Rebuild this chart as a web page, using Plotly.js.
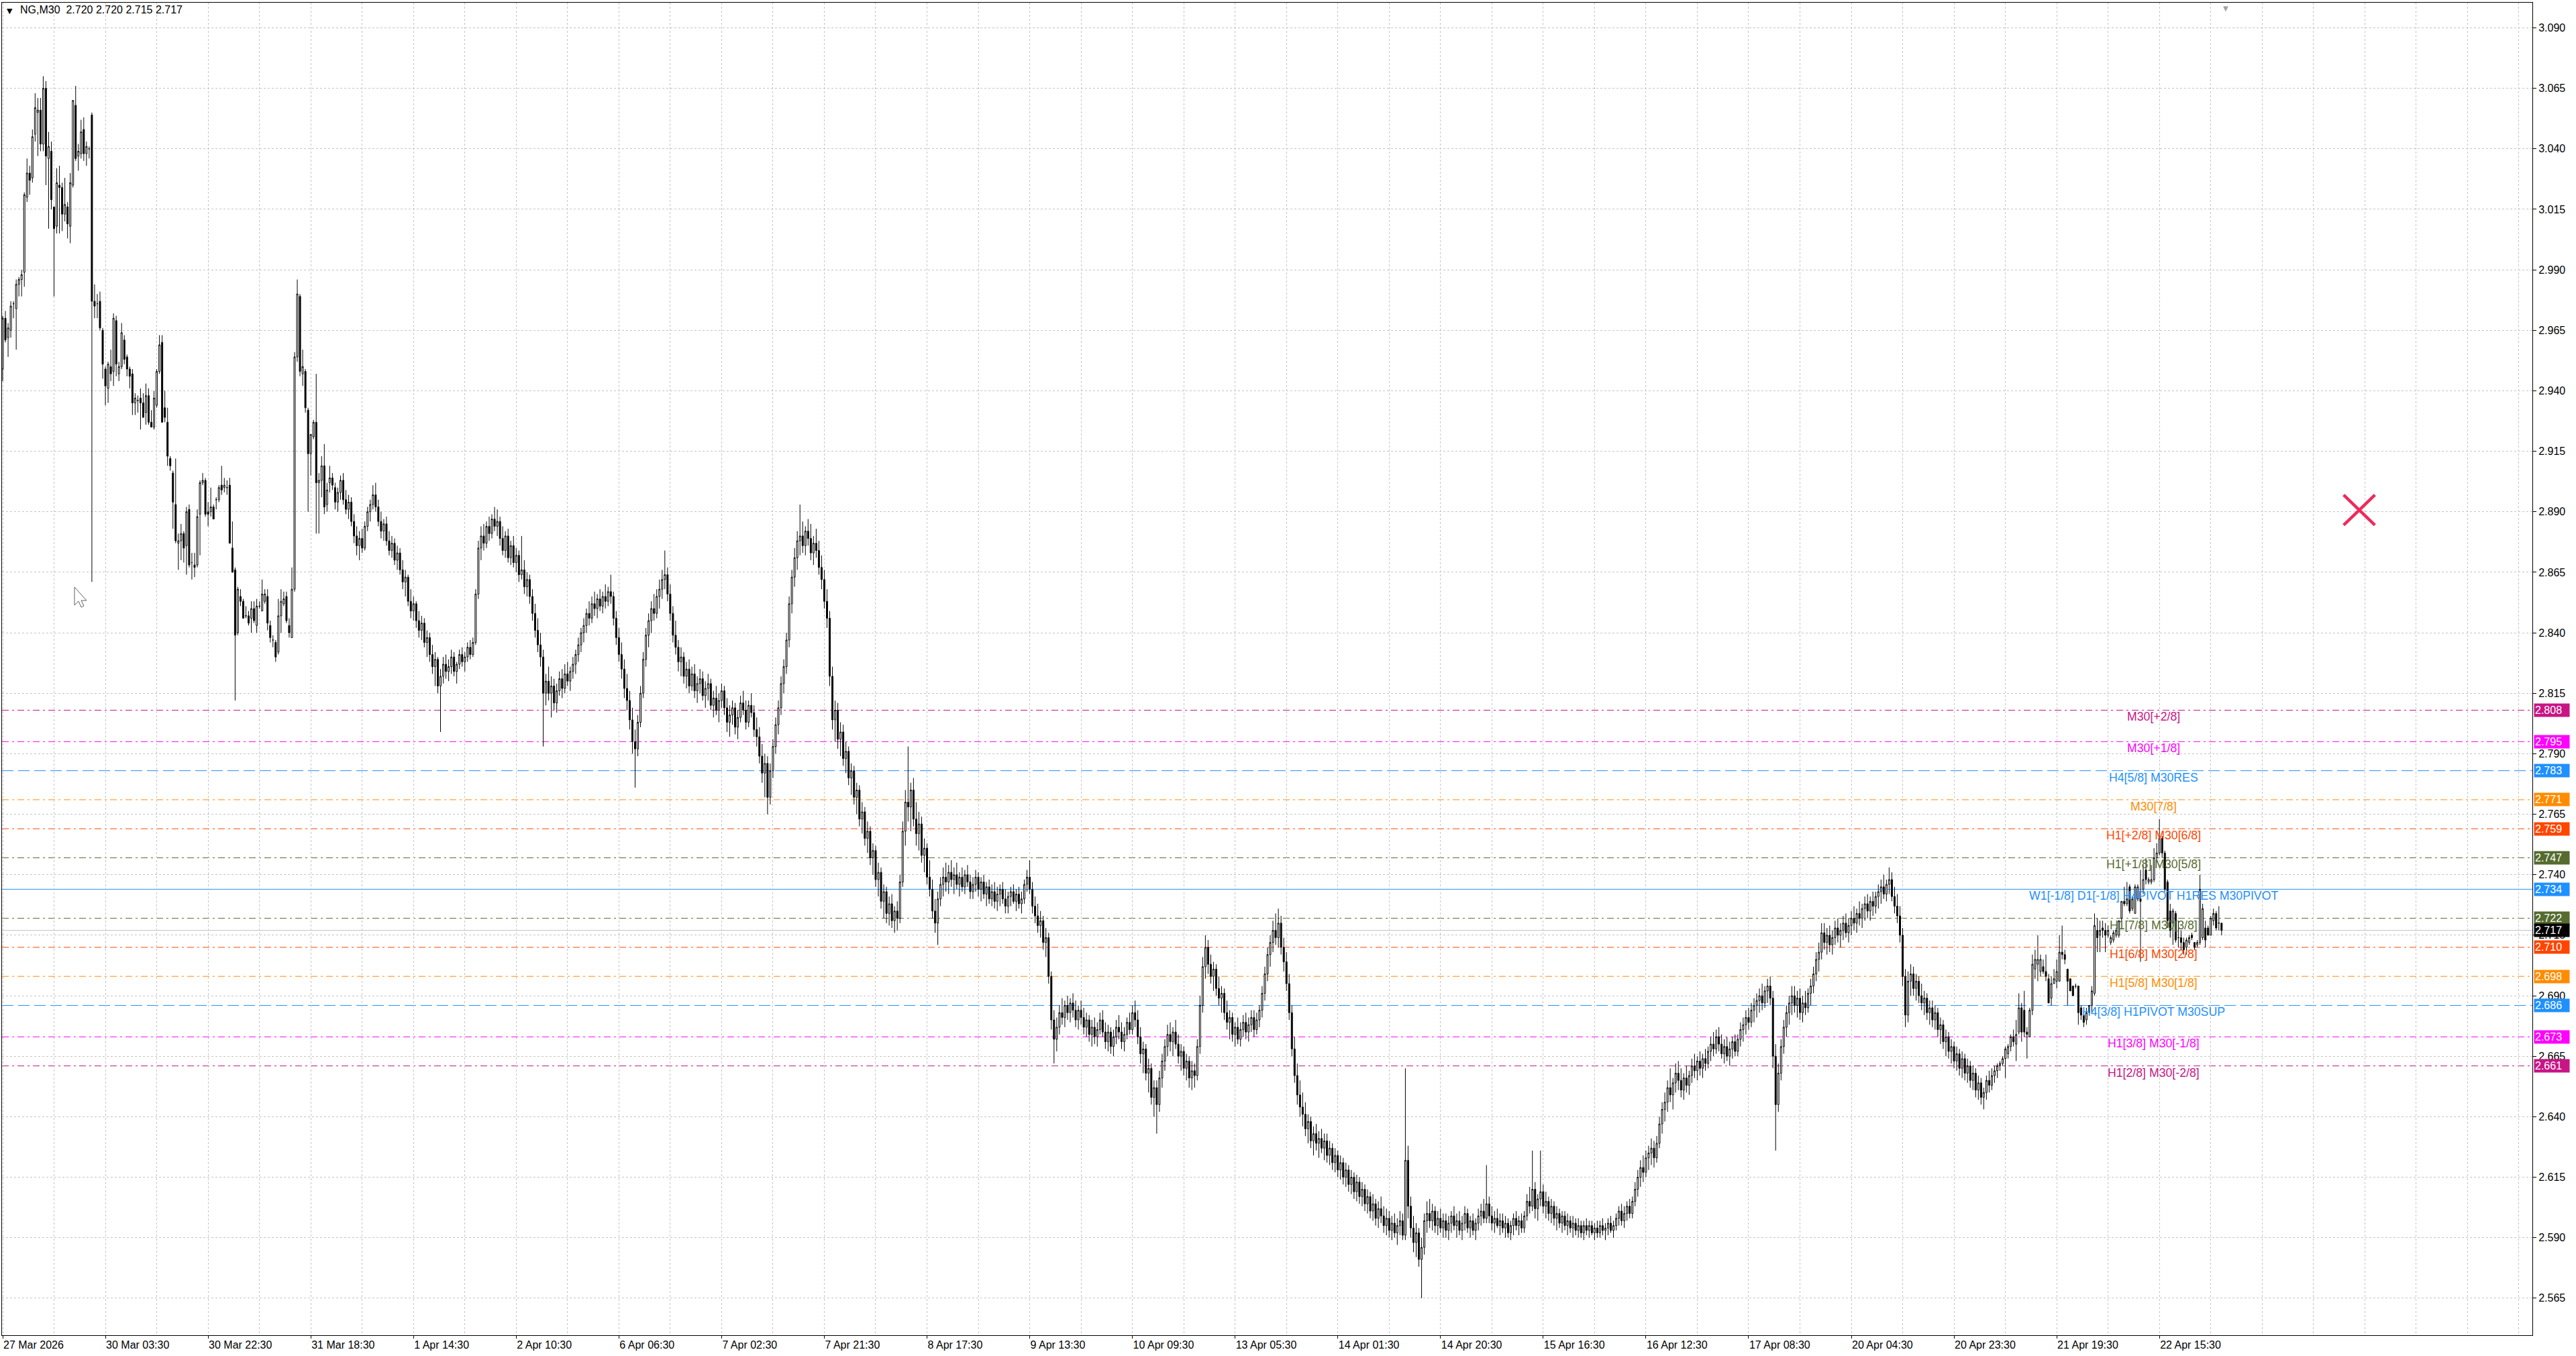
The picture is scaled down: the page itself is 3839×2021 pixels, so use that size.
<!DOCTYPE html>
<html><head><meta charset="utf-8">
<script src="https://cdn.plot.ly/plotly-3.0.1.min.js"></script>
<style>html,body{margin:0;padding:0;background:#fff;overflow:hidden}#chart{width:3839px;height:2021px}</style>
</head><body><div id="chart"></div>
<script>
// ---------------- DATA ----------------
const headerText = 'NG,M30  2.720 2.720 2.715 2.717';
const timeLabels = ['27 Mar 2026','30 Mar 03:30','30 Mar 22:30','31 Mar 18:30','1 Apr 14:30','2 Apr 10:30','6 Apr 06:30','7 Apr 02:30','7 Apr 21:30','8 Apr 17:30','9 Apr 13:30','10 Apr 09:30','13 Apr 05:30','14 Apr 01:30','14 Apr 20:30','15 Apr 16:30','16 Apr 12:30','17 Apr 08:30','20 Apr 04:30','20 Apr 23:30','21 Apr 19:30','22 Apr 15:30'];
const barsPerTimeLabel = 38;
const priceTicks = [3.090,3.065,3.040,3.015,2.990,2.965,2.940,2.915,2.890,2.865,2.840,2.815,2.790,2.765,2.740,2.715,2.690,2.665,2.640,2.615,2.590,2.565];

const openP = [2.949,2.970,2.962,2.965,2.976,2.974,2.984,2.986,2.989,3.020,3.030,3.028,3.046,3.055,3.056,3.042,3.065,3.036,3.039,3.016,3.008,3.025,3.024,3.013,3.016,3.008,3.025,3.058,3.037,3.038,3.048,3.038,3.040,3.054,2.977,2.976,2.977,2.965,2.949,2.941,2.950,2.948,2.969,2.947,2.950,2.961,2.954,2.949,2.947,2.935,2.936,2.937,2.935,2.931,2.938,2.927,2.925,2.934,2.948,2.960,2.933,2.927,2.912,2.906,2.893,2.877,2.878,2.881,2.876,2.891,2.869,2.868,2.868,2.889,2.902,2.903,2.890,2.890,2.892,2.895,2.895,2.901,2.900,2.900,2.901,2.875,2.866,2.840,2.855,2.853,2.847,2.847,2.846,2.850,2.843,2.851,2.849,2.853,2.855,2.843,2.837,2.836,2.832,2.847,2.852,2.855,2.843,2.838,2.858,2.954,2.979,2.947,2.948,2.932,2.914,2.921,2.927,2.902,2.903,2.909,2.893,2.902,2.904,2.900,
2.894,2.898,2.903,2.895,2.891,2.894,2.886,2.880,2.876,2.879,
2.875,2.884,2.890,2.893,2.897,2.892,2.886,2.882,2.885,2.878,
2.874,2.877,2.870,2.873,2.866,2.861,2.863,2.853,2.849,2.852,
2.845,2.841,2.844,2.836,2.838,2.831,2.826,2.829,2.818,2.822,
2.827,2.824,2.826,2.830,2.824,2.827,2.831,2.828,2.830,2.834,2.831,2.836,
2.856,2.875,2.880,2.877,2.884,2.881,2.887,2.884,2.886,2.879,
2.874,2.880,2.871,2.876,2.869,2.872,2.864,2.866,2.859,2.862,
2.855,2.848,2.841,2.835,2.830,2.815,2.820,2.815,2.818,2.811,
2.816,2.821,2.817,2.823,2.820,2.824,2.827,
2.831,2.835,2.840,2.843,2.848,2.846,2.852,2.850,2.854,2.851,2.855,2.853,
2.857,2.855,2.846,2.838,2.831,2.825,2.817,2.812,2.804,2.795,2.792,2.803,
2.815,2.829,2.839,2.845,2.850,2.848,2.855,2.858,2.862,2.864,2.856,2.848,
2.839,2.834,2.828,2.830,2.822,2.825,2.818,2.823,2.816,2.819,2.821,2.814,
2.817,2.819,2.810,2.813,2.808,2.812,2.816,2.809,2.803,2.806,2.809,2.801,2.805,2.811,2.808,
2.803,2.810,2.807,2.800,2.797,2.789,2.782,2.786,2.772,2.783,2.793,2.802,2.809,2.819,2.826,
2.837,2.852,2.863,2.871,2.878,2.880,2.876,2.882,2.879,2.873,2.877,2.874,2.867,2.862,2.853,
2.846,2.822,2.804,2.808,2.796,2.799,2.788,2.791,2.780,2.783,2.772,2.775,2.763,2.766,
2.755,2.758,2.747,2.750,2.738,2.741,2.729,2.733,2.724,2.728,2.721,2.725,2.722,
2.737,2.758,2.770,2.768,2.775,2.763,2.757,2.761,2.748,2.751,
2.739,2.734,2.725,2.720,2.730,2.736,2.739,2.737,2.741,2.738,
2.740,2.736,2.739,2.735,2.740,2.737,2.733,2.736,2.739,2.734,2.737,2.732,2.735,2.730,2.733,
2.729,2.732,2.734,2.730,2.727,2.731,2.733,2.729,2.732,2.728,2.730,2.736,2.739,2.734,2.727,2.723,2.719,2.721,2.712,2.714,
2.698,2.680,2.672,2.677,2.683,2.681,2.686,2.683,2.687,2.684,2.680,2.684,2.681,2.677,2.680,
2.674,2.677,2.673,2.676,2.680,2.675,2.671,2.675,2.669,2.673,2.677,2.675,2.671,2.674,2.679,
2.676,2.683,2.680,2.673,2.666,2.668,2.658,2.660,2.648,2.652,2.645,2.656,2.663,2.669,2.674,
2.671,2.675,2.670,2.665,2.667,2.660,2.663,2.656,2.659,2.657,2.669,2.686,2.702,
2.710,2.703,2.698,2.701,2.693,2.689,2.691,2.683,2.679,2.681,2.674,2.677,2.672,2.676,2.679,
2.675,2.678,2.681,2.676,2.680,2.684,2.691,2.699,2.707,2.712,2.717,2.714,2.720,2.710,2.704,2.695,
2.683,2.668,2.657,2.649,2.644,2.641,2.635,2.638,2.630,2.633,2.629,2.631,2.627,2.630,2.624,
2.627,2.621,2.624,2.618,2.621,2.615,2.618,2.612,2.615,2.609,2.613,2.607,2.610,2.604,2.607,
2.601,2.604,2.598,2.602,2.599,2.595,2.598,2.593,2.596,2.592,2.595,2.597,2.591,
2.622,2.603,2.594,2.588,2.592,2.581,2.586,2.597,2.600,2.597,2.601,2.595,2.598,2.594,2.597,
2.593,2.596,2.599,2.595,2.597,2.593,2.596,2.600,2.594,2.597,2.593,2.596,2.599,2.601,2.598,
2.604,2.599,2.596,2.598,2.595,2.597,2.594,2.596,2.592,2.595,2.598,2.595,2.597,2.594,2.599,
2.605,2.603,2.610,2.602,2.606,2.609,2.603,2.605,2.600,2.603,2.598,2.600,2.596,2.599,2.595,
2.597,2.594,2.596,2.593,2.595,2.592,2.595,2.593,2.595,2.592,2.594,2.592,2.595,2.593,2.594,
2.596,2.593,2.595,2.598,2.601,2.597,2.600,2.603,2.600,2.605,
2.610,2.615,2.619,2.617,2.623,2.625,2.627,2.623,2.629,2.637,2.643,2.646,2.652,2.649,2.654,
2.658,2.655,2.651,2.656,2.653,2.657,2.661,2.659,2.663,2.660,2.664,2.662,2.667,2.670,2.668,
2.673,2.670,2.666,2.669,2.665,2.668,2.671,2.667,2.672,2.676,2.678,2.681,2.679,2.684,2.686,
2.688,2.690,2.687,2.692,2.694,2.689,2.665,2.645,2.658,
2.669,2.677,2.683,2.687,2.690,2.686,2.689,2.683,2.687,2.685,2.691,2.694,2.699,2.705,2.708,
2.716,2.712,2.715,2.711,2.714,2.718,2.715,2.717,2.720,2.716,2.719,2.722,2.720,2.724,2.722,
2.726,2.728,2.725,2.729,2.727,2.731,2.733,2.735,2.732,2.736,2.738,2.731,2.727,2.723,2.715,
2.698,2.682,2.696,2.699,2.693,2.696,2.690,2.687,2.689,2.683,2.685,2.680,2.683,2.676,2.678,
2.671,2.673,2.667,2.669,2.663,2.666,2.660,2.664,2.658,2.661,2.655,2.658,2.651,2.654,2.648,
2.650,2.655,2.653,2.657,2.659,
2.661,2.662,2.664,2.666,2.669,2.673,2.670,2.675,2.685,2.684,2.675,2.673,2.684,2.701,2.703,
2.700,2.702,2.700,2.697,2.689,2.695,2.696,2.696,2.708,2.707,2.701,2.697,2.694,2.694,2.694,
2.685,2.682,2.680,2.683,2.686,2.691,2.717,2.715,2.718,2.717,2.715,
2.712,2.713,2.715,2.715,2.722,2.729,2.728,2.735,2.726,2.724,2.730,2.730,2.734,2.742,2.737,2.737,
2.738,2.747,2.749,2.755,2.749,2.737,2.725,2.720,2.724,2.714,2.714,2.712,2.710,2.712,2.715,
2.712,2.711,2.712,2.714,2.718,2.718,2.715,2.721,2.724,2.720,2.720];

const highP = [2.971,2.973,2.968,2.977,2.977,2.986,2.987,2.990,3.022,3.036,3.033,3.048,3.063,3.061,3.061,3.070,3.068,3.047,3.043,3.016,3.032,3.033,3.026,3.028,3.018,3.030,3.060,3.066,3.042,3.052,3.053,3.043,3.041,3.055,2.984,2.980,2.981,2.966,2.950,2.952,2.957,2.972,2.971,2.952,2.968,2.963,2.955,2.950,2.949,2.939,2.938,2.941,2.939,2.943,2.941,2.932,2.940,2.949,2.963,2.963,2.940,2.933,2.913,2.907,2.912,2.881,2.885,2.882,2.892,2.893,2.873,2.873,2.891,2.903,2.906,2.904,2.894,2.900,2.893,2.896,2.901,2.909,2.904,2.903,2.904,2.886,2.867,2.859,2.858,2.854,2.851,2.849,2.853,2.853,2.854,2.853,2.862,2.858,2.858,2.845,2.839,2.837,2.854,2.858,2.857,2.857,2.846,2.867,2.956,2.986,2.980,2.957,2.949,2.933,2.922,2.928,2.947,2.906,2.913,2.918,2.902,2.909,2.906,2.902,
2.900,2.905,2.906,2.899,2.897,2.896,2.889,2.884,2.882,2.883,
2.886,2.892,2.895,2.901,2.902,2.895,2.890,2.887,2.888,2.882,
2.880,2.879,2.876,2.875,2.870,2.866,2.864,2.858,2.855,2.853,
2.849,2.847,2.846,2.841,2.840,2.835,2.832,2.830,2.825,2.830,
2.831,2.829,2.833,2.832,2.828,2.833,2.834,2.832,2.836,2.837,2.838,2.858,
2.878,2.884,2.885,2.886,2.888,2.889,2.892,2.891,2.888,2.884,
2.882,2.883,2.878,2.880,2.875,2.874,2.880,2.870,2.865,2.864,
2.858,2.852,2.846,2.840,2.833,2.823,2.826,2.822,2.821,2.819,
2.824,2.825,2.827,2.828,2.826,2.830,2.833,
2.838,2.842,2.846,2.850,2.853,2.855,2.857,2.856,2.858,2.857,2.860,2.859,
2.864,2.857,2.849,2.842,2.836,2.829,2.823,2.816,2.809,2.800,2.806,2.818,
2.832,2.842,2.848,2.853,2.856,2.858,2.862,2.866,2.874,2.867,2.860,2.851,
2.845,2.837,2.834,2.832,2.828,2.829,2.826,2.827,2.822,2.825,2.824,2.820,
2.823,2.821,2.816,2.818,2.815,2.819,2.818,2.813,2.810,2.812,2.811,2.808,2.814,2.816,2.812,
2.812,2.815,2.810,2.805,2.801,2.794,2.790,2.789,2.786,2.796,2.805,2.812,2.822,2.829,2.840,
2.855,2.866,2.875,2.882,2.893,2.886,2.884,2.887,2.885,2.880,2.883,2.878,2.872,2.866,2.858,
2.849,2.826,2.812,2.811,2.803,2.802,2.795,2.793,2.786,2.785,2.778,2.777,2.770,2.768,
2.762,2.760,2.753,2.752,2.745,2.743,2.736,2.735,2.731,2.732,2.727,2.729,2.740,
2.762,2.775,2.793,2.778,2.780,2.770,2.766,2.764,2.755,2.753,
2.746,2.738,2.730,2.733,2.739,2.743,2.745,2.744,2.746,2.743,
2.745,2.741,2.743,2.742,2.744,2.740,2.739,2.742,2.741,2.739,2.740,2.737,2.738,2.736,2.737,
2.735,2.736,2.737,2.734,2.733,2.735,2.736,2.734,2.735,2.733,2.738,2.742,2.746,2.737,2.731,2.728,2.725,2.723,2.718,2.716,
2.700,2.684,2.681,2.686,2.689,2.688,2.690,2.689,2.691,2.688,2.686,2.688,2.685,2.683,2.682,
2.680,2.681,2.679,2.683,2.684,2.679,2.678,2.677,2.676,2.680,2.682,2.679,2.677,2.681,2.683,
2.686,2.688,2.684,2.677,2.671,2.670,2.664,2.662,2.655,2.655,2.659,2.666,2.672,2.678,2.679,
2.677,2.680,2.674,2.670,2.669,2.666,2.665,2.663,2.662,2.672,2.690,2.706,2.715,
2.713,2.707,2.704,2.703,2.698,2.694,2.693,2.688,2.684,2.683,2.679,2.681,2.679,2.682,2.683,
2.681,2.684,2.684,2.683,2.686,2.694,2.702,2.710,2.715,2.721,2.724,2.726,2.723,2.714,2.708,2.699,
2.686,2.673,2.662,2.655,2.650,2.646,2.641,2.640,2.636,2.637,2.634,2.635,2.633,2.633,2.630,
2.629,2.627,2.626,2.624,2.623,2.621,2.620,2.618,2.617,2.616,2.615,2.613,2.612,2.610,2.609,
2.608,2.606,2.605,2.607,2.603,2.602,2.601,2.599,2.600,2.598,2.601,2.600,2.660,
2.628,2.607,2.599,2.596,2.594,2.590,2.600,2.605,2.606,2.604,2.603,2.601,2.602,2.600,2.600,
2.599,2.601,2.603,2.600,2.601,2.599,2.603,2.602,2.599,2.600,2.598,2.602,2.604,2.606,2.620,
2.607,2.603,2.601,2.602,2.600,2.600,2.599,2.598,2.597,2.600,2.601,2.599,2.600,2.601,2.608,
2.611,2.626,2.613,2.608,2.626,2.612,2.609,2.607,2.606,2.605,2.603,2.602,2.601,2.601,2.600,
2.599,2.599,2.598,2.598,2.597,2.597,2.598,2.597,2.597,2.596,2.597,2.597,2.598,2.596,2.598,
2.599,2.597,2.600,2.603,2.604,2.603,2.605,2.606,2.607,2.613,
2.618,2.622,2.624,2.626,2.628,2.631,2.630,2.632,2.640,2.646,2.650,2.655,2.660,2.656,2.662,
2.663,2.660,2.658,2.661,2.659,2.664,2.666,2.665,2.667,2.666,2.668,2.669,2.673,2.675,2.676,
2.677,2.674,2.672,2.673,2.671,2.673,2.674,2.674,2.679,2.681,2.684,2.685,2.687,2.689,2.691,
2.693,2.695,2.694,2.697,2.698,2.692,2.670,2.662,2.672,
2.680,2.686,2.690,2.694,2.694,2.692,2.693,2.690,2.692,2.693,2.697,2.702,2.708,2.712,2.720,
2.720,2.718,2.719,2.717,2.721,2.722,2.720,2.723,2.724,2.722,2.725,2.727,2.726,2.729,2.728,
2.731,2.732,2.731,2.733,2.733,2.736,2.738,2.740,2.738,2.743,2.741,2.735,2.732,2.727,2.718,
2.701,2.700,2.703,2.702,2.699,2.698,2.695,2.692,2.691,2.688,2.688,2.686,2.685,2.681,2.680,
2.676,2.675,2.672,2.671,2.669,2.668,2.667,2.666,2.664,2.663,2.661,2.660,2.657,2.656,2.652,
2.657,2.659,2.660,2.661,2.662,
2.663,2.665,2.669,2.670,2.674,2.676,2.680,2.691,2.687,2.692,2.677,2.685,2.707,2.709,2.715,
2.707,2.705,2.707,2.699,2.698,2.701,2.705,2.715,2.719,2.709,2.701,2.697,2.694,2.695,2.694,
2.686,2.683,2.685,2.686,2.694,2.724,2.722,2.721,2.721,2.720,2.719,
2.715,2.717,2.718,2.721,2.729,2.735,2.737,2.736,2.731,2.736,2.736,2.742,2.744,2.747,2.739,2.744,
2.751,2.753,2.763,2.756,2.750,2.738,2.728,2.726,2.725,2.721,2.717,2.714,2.714,2.715,2.716,
2.712,2.713,2.740,2.728,2.721,2.719,2.723,2.726,2.725,2.727,2.720];

const lowP = [2.944,2.960,2.954,2.962,2.970,2.957,2.979,2.979,2.983,3.018,3.021,3.026,3.043,3.037,3.039,3.039,3.025,3.007,3.015,2.979,3.005,3.005,3.006,3.010,3.003,3.001,3.024,3.035,3.031,3.036,3.035,3.033,3.036,2.861,2.970,2.970,2.965,2.945,2.934,2.935,2.944,2.942,2.946,2.944,2.949,2.951,2.946,2.941,2.930,2.930,2.931,2.924,2.929,2.926,2.926,2.925,2.924,2.933,2.947,2.927,2.927,2.909,2.907,2.883,2.877,2.866,2.870,2.869,2.864,2.867,2.862,2.863,2.867,2.872,2.901,2.888,2.884,2.888,2.887,2.891,2.894,2.897,2.898,2.897,2.877,2.865,2.812,2.839,2.851,2.846,2.846,2.843,2.840,2.844,2.840,2.850,2.849,2.852,2.841,2.836,2.834,2.828,2.831,2.840,2.851,2.844,2.838,2.838,2.857,2.952,2.946,2.942,2.931,2.890,2.905,2.920,2.881,2.881,2.896,2.889,2.890,2.898,2.899,2.891,
2.890,2.895,2.893,2.889,2.887,2.884,2.877,2.872,2.870,2.873,
2.874,2.882,2.886,2.891,2.890,2.884,2.879,2.878,2.876,2.872,
2.871,2.868,2.866,2.864,2.858,2.855,2.851,2.846,2.845,2.842,
2.838,2.837,2.834,2.830,2.828,2.823,2.818,2.815,2.799,2.819,
2.821,2.820,2.823,2.822,2.819,2.825,2.826,2.824,2.828,2.829,2.830,2.835,
2.854,2.870,2.874,2.875,2.878,2.879,2.882,2.880,2.876,2.872,
2.871,2.869,2.868,2.867,2.865,2.861,2.862,2.856,2.855,2.852,
2.845,2.838,2.832,2.826,2.793,2.810,2.812,2.805,2.808,2.807,
2.814,2.813,2.815,2.818,2.816,2.821,2.823,
2.828,2.832,2.836,2.840,2.843,2.844,2.847,2.846,2.849,2.848,2.850,2.851,
2.852,2.843,2.835,2.828,2.821,2.813,2.808,2.800,2.790,2.776,2.789,2.801,
2.813,2.826,2.834,2.840,2.845,2.846,2.850,2.854,2.858,2.853,2.845,2.836,
2.831,2.824,2.822,2.819,2.817,2.815,2.816,2.813,2.811,2.815,2.812,2.809,
2.812,2.808,2.805,2.806,2.803,2.809,2.806,2.799,2.797,2.802,2.798,2.796,2.803,2.806,2.800,
2.801,2.805,2.797,2.793,2.786,2.778,2.772,2.765,2.769,2.780,2.790,2.798,2.806,2.815,2.823,
2.834,2.848,2.859,2.866,2.872,2.873,2.872,2.876,2.870,2.868,2.871,2.864,2.858,2.850,2.842,
2.818,2.800,2.795,2.792,2.789,2.785,2.782,2.777,2.773,2.769,2.765,2.760,2.757,2.752,
2.749,2.744,2.740,2.735,2.731,2.726,2.722,2.720,2.719,2.718,2.716,2.717,2.720,
2.735,2.752,2.762,2.758,2.760,2.752,2.750,2.745,2.741,2.736,
2.731,2.722,2.716,2.711,2.727,2.731,2.733,2.732,2.735,2.732,
2.734,2.731,2.733,2.732,2.735,2.730,2.730,2.733,2.731,2.729,2.730,2.727,2.728,2.727,2.726,
2.725,2.727,2.728,2.724,2.724,2.727,2.728,2.725,2.726,2.724,2.728,2.733,2.732,2.724,2.720,2.716,2.714,2.709,2.706,2.695,
2.676,2.662,2.667,2.674,2.678,2.677,2.680,2.679,2.681,2.677,2.676,2.678,2.674,2.673,2.671,
2.669,2.670,2.669,2.674,2.673,2.668,2.667,2.666,2.665,2.670,2.672,2.668,2.667,2.672,2.674,
2.674,2.677,2.670,2.662,2.658,2.655,2.650,2.645,2.640,2.633,2.642,2.652,2.659,2.665,2.667,
2.665,2.668,2.662,2.659,2.657,2.655,2.652,2.651,2.652,2.655,2.666,2.683,2.697,
2.699,2.695,2.692,2.690,2.686,2.683,2.680,2.676,2.672,2.671,2.669,2.670,2.669,2.673,2.672,
2.671,2.675,2.673,2.674,2.677,2.681,2.688,2.696,2.702,2.708,2.711,2.710,2.707,2.700,2.692,2.680,
2.665,2.654,2.645,2.640,2.636,2.632,2.629,2.627,2.624,2.626,2.623,2.625,2.622,2.621,2.620,
2.618,2.617,2.615,2.614,2.612,2.611,2.609,2.608,2.606,2.605,2.604,2.603,2.601,2.600,2.598,
2.597,2.595,2.594,2.596,2.592,2.591,2.590,2.589,2.590,2.587,2.591,2.589,2.589,
2.598,2.590,2.584,2.582,2.578,2.565,2.583,2.592,2.594,2.593,2.592,2.591,2.592,2.590,2.590,
2.589,2.592,2.593,2.590,2.591,2.589,2.593,2.592,2.590,2.591,2.589,2.593,2.595,2.596,2.596,
2.596,2.593,2.592,2.594,2.591,2.592,2.590,2.590,2.589,2.591,2.593,2.591,2.592,2.592,2.597,
2.600,2.601,2.598,2.597,2.603,2.600,2.598,2.597,2.596,2.595,2.593,2.594,2.592,2.593,2.591,
2.592,2.590,2.591,2.590,2.590,2.589,2.591,2.590,2.591,2.589,2.590,2.590,2.591,2.589,2.591,
2.592,2.590,2.593,2.595,2.595,2.594,2.597,2.598,2.598,2.603,
2.607,2.611,2.613,2.615,2.618,2.620,2.619,2.621,2.627,2.633,2.638,2.642,2.646,2.643,2.650,
2.651,2.648,2.647,2.650,2.649,2.654,2.656,2.655,2.657,2.656,2.659,2.660,2.663,2.665,2.666,
2.667,2.664,2.662,2.663,2.661,2.664,2.665,2.665,2.669,2.671,2.674,2.676,2.677,2.679,2.681,
2.683,2.684,2.685,2.687,2.686,2.660,2.626,2.642,2.655,
2.666,2.673,2.678,2.682,2.683,2.681,2.680,2.679,2.682,2.683,2.686,2.691,2.696,2.700,2.705,
2.709,2.707,2.708,2.707,2.711,2.712,2.710,2.713,2.714,2.712,2.715,2.717,2.716,2.719,2.718,
2.721,2.722,2.721,2.723,2.724,2.726,2.728,2.730,2.729,2.732,2.729,2.724,2.720,2.712,2.694,
2.677,2.679,2.690,2.690,2.688,2.687,2.684,2.682,2.680,2.678,2.677,2.676,2.673,2.670,2.668,
2.665,2.664,2.662,2.660,2.659,2.657,2.656,2.655,2.654,2.652,2.651,2.648,2.647,2.645,2.643,
2.647,2.650,2.651,2.654,2.656,
2.659,2.661,2.656,2.664,2.667,2.669,2.663,2.674,2.671,2.673,2.664,2.673,2.682,2.697,2.696,
2.698,2.699,2.696,2.687,2.686,2.695,2.693,2.696,2.705,2.703,2.686,2.692,2.690,2.693,2.678,
2.680,2.677,2.678,2.682,2.683,2.690,2.708,2.708,2.714,2.708,2.714,
2.711,2.712,2.714,2.714,2.721,2.727,2.727,2.724,2.725,2.724,2.729,2.704,2.732,2.736,2.736,2.736,
2.737,2.745,2.748,2.747,2.733,2.718,2.714,2.711,2.712,2.710,2.709,2.707,2.707,2.711,2.713,
2.709,2.710,2.711,2.713,2.710,2.715,2.715,2.719,2.717,2.717,2.715];

const closeP = [2.970,2.961,2.966,2.975,2.976,2.984,2.986,2.988,3.021,3.030,3.027,3.045,3.057,3.056,3.042,3.065,3.037,3.041,3.019,3.007,3.026,3.024,3.013,3.017,3.009,3.026,3.060,3.036,3.039,3.047,3.038,3.041,3.040,2.977,2.975,2.976,2.966,2.951,2.942,2.951,2.947,2.970,2.951,2.950,2.964,2.953,2.949,2.946,2.935,2.937,2.936,2.935,2.929,2.938,2.927,2.925,2.937,2.948,2.959,2.927,2.929,2.913,2.909,2.894,2.878,2.878,2.881,2.875,2.890,2.868,2.869,2.867,2.888,2.902,2.903,2.889,2.889,2.892,2.887,2.895,2.900,2.899,2.901,2.900,2.877,2.865,2.839,2.858,2.853,2.846,2.847,2.844,2.850,2.845,2.851,2.851,2.856,2.856,2.844,2.838,2.837,2.830,2.847,2.853,2.854,2.845,2.840,2.858,2.954,2.980,2.948,2.950,2.933,2.914,2.922,2.927,2.902,2.903,2.909,2.892,2.899,2.904,2.901,2.894,
2.898,2.903,2.895,2.891,2.894,2.886,2.880,2.876,2.879,2.875,
2.884,2.890,2.893,2.897,2.892,2.886,2.882,2.885,2.878,2.874,
2.877,2.870,2.873,2.866,2.861,2.863,2.853,2.849,2.852,2.845,
2.841,2.844,2.836,2.838,2.831,2.826,2.829,2.818,2.822,2.827,
2.824,2.826,2.830,2.824,2.827,2.831,2.828,2.830,2.834,2.831,2.836,2.856,
2.875,2.880,2.877,2.884,2.881,2.887,2.884,2.886,2.879,2.874,
2.880,2.871,2.876,2.869,2.872,2.864,2.866,2.859,2.862,2.855,
2.848,2.841,2.835,2.830,2.815,2.820,2.815,2.818,2.811,2.816,
2.821,2.817,2.823,2.820,2.824,2.827,2.831,
2.835,2.840,2.843,2.848,2.846,2.852,2.850,2.854,2.851,2.855,2.853,2.857,
2.855,2.846,2.838,2.831,2.825,2.817,2.812,2.804,2.795,2.792,2.803,2.815,
2.829,2.839,2.845,2.850,2.848,2.855,2.858,2.862,2.864,2.856,2.848,2.839,
2.834,2.828,2.830,2.822,2.825,2.818,2.823,2.816,2.819,2.821,2.814,2.817,
2.819,2.810,2.813,2.808,2.812,2.816,2.809,2.803,2.806,2.809,2.801,2.805,2.811,2.808,2.803,
2.810,2.807,2.800,2.797,2.789,2.782,2.786,2.772,2.783,2.793,2.802,2.809,2.819,2.826,2.837,
2.852,2.863,2.871,2.878,2.880,2.876,2.882,2.879,2.873,2.877,2.874,2.867,2.862,2.853,2.846,
2.822,2.804,2.808,2.796,2.799,2.788,2.791,2.780,2.783,2.772,2.775,2.763,2.766,2.755,
2.758,2.747,2.750,2.738,2.741,2.729,2.733,2.724,2.728,2.721,2.725,2.722,2.737,
2.758,2.770,2.768,2.775,2.763,2.757,2.761,2.748,2.751,2.739,
2.734,2.725,2.720,2.730,2.736,2.739,2.737,2.741,2.738,2.740,
2.736,2.739,2.735,2.740,2.737,2.733,2.736,2.739,2.734,2.737,2.732,2.735,2.730,2.733,2.729,
2.732,2.734,2.730,2.727,2.731,2.733,2.729,2.732,2.728,2.730,2.736,2.739,2.734,2.727,2.723,2.719,2.721,2.712,2.714,2.698,
2.680,2.672,2.677,2.683,2.681,2.686,2.683,2.687,2.684,2.680,2.684,2.681,2.677,2.680,2.674,
2.677,2.673,2.676,2.680,2.675,2.671,2.675,2.669,2.673,2.677,2.675,2.671,2.674,2.679,2.676,
2.683,2.680,2.673,2.666,2.668,2.658,2.660,2.648,2.652,2.645,2.656,2.663,2.669,2.674,2.671,
2.675,2.670,2.665,2.667,2.660,2.663,2.656,2.659,2.657,2.669,2.686,2.702,2.710,
2.703,2.698,2.701,2.693,2.689,2.691,2.683,2.679,2.681,2.674,2.677,2.672,2.676,2.679,2.675,
2.678,2.681,2.676,2.680,2.684,2.691,2.699,2.707,2.712,2.717,2.714,2.720,2.710,2.704,2.695,2.683,
2.668,2.657,2.649,2.644,2.641,2.635,2.638,2.630,2.633,2.629,2.631,2.627,2.630,2.624,2.627,
2.621,2.624,2.618,2.621,2.615,2.618,2.612,2.615,2.609,2.613,2.607,2.610,2.604,2.607,2.601,
2.604,2.598,2.602,2.599,2.595,2.598,2.593,2.596,2.592,2.595,2.597,2.591,2.622,
2.603,2.594,2.588,2.592,2.581,2.586,2.597,2.600,2.597,2.601,2.595,2.598,2.594,2.597,2.593,
2.596,2.599,2.595,2.597,2.593,2.596,2.600,2.594,2.597,2.593,2.596,2.599,2.601,2.598,2.604,
2.599,2.596,2.598,2.595,2.597,2.594,2.596,2.592,2.595,2.598,2.595,2.597,2.594,2.599,2.605,
2.603,2.610,2.602,2.606,2.609,2.603,2.605,2.600,2.603,2.598,2.600,2.596,2.599,2.595,2.597,
2.594,2.596,2.593,2.595,2.592,2.595,2.593,2.595,2.592,2.594,2.592,2.595,2.593,2.594,2.596,
2.593,2.595,2.598,2.601,2.597,2.600,2.603,2.600,2.605,2.610,
2.615,2.619,2.617,2.623,2.625,2.627,2.623,2.629,2.637,2.643,2.646,2.652,2.649,2.654,2.658,
2.655,2.651,2.656,2.653,2.657,2.661,2.659,2.663,2.660,2.664,2.662,2.667,2.670,2.668,2.673,
2.670,2.666,2.669,2.665,2.668,2.671,2.667,2.672,2.676,2.678,2.681,2.679,2.684,2.686,2.688,
2.690,2.687,2.692,2.694,2.689,2.665,2.645,2.658,2.669,
2.677,2.683,2.687,2.690,2.686,2.689,2.683,2.687,2.685,2.691,2.694,2.699,2.705,2.708,2.716,
2.712,2.715,2.711,2.714,2.718,2.715,2.717,2.720,2.716,2.719,2.722,2.720,2.724,2.722,2.726,
2.728,2.725,2.729,2.727,2.731,2.733,2.735,2.732,2.736,2.738,2.731,2.727,2.723,2.715,2.698,
2.682,2.696,2.699,2.693,2.696,2.690,2.687,2.689,2.683,2.685,2.680,2.683,2.676,2.678,2.671,
2.673,2.667,2.669,2.663,2.666,2.660,2.664,2.658,2.661,2.655,2.658,2.651,2.654,2.648,2.650,
2.655,2.653,2.657,2.659,2.661,
2.662,2.664,2.668,2.669,2.673,2.671,2.674,2.685,2.675,2.675,2.674,2.684,2.703,2.705,2.705,
2.705,2.700,2.698,2.687,2.695,2.697,2.700,2.708,2.707,2.705,2.696,2.692,2.690,2.694,2.683,
2.682,2.679,2.683,2.686,2.692,2.719,2.714,2.717,2.717,2.715,2.717,
2.714,2.716,2.717,2.721,2.729,2.728,2.730,2.725,2.730,2.735,2.735,2.729,2.738,2.738,2.738,2.738,
2.747,2.749,2.755,2.749,2.734,2.721,2.717,2.725,2.713,2.714,2.712,2.709,2.713,2.714,2.714,
2.710,2.712,2.734,2.726,2.713,2.715,2.722,2.724,2.718,2.720,2.717];

const levelValues = [2.808,2.795,2.783,2.771,2.759,2.747,2.734,2.722,2.710,2.698,2.686,2.673,2.661];
const levelNames = ['M30[+2/8]','M30[+1/8]','H4[5/8] M30RES','M30[7/8]','H1[+2/8] M30[6/8]','H1[+1/8] M30[5/8]','W1[-1/8] D1[-1/8] H4PIVOT H1RES M30PIVOT','H1[7/8] M30[3/8]','H1[6/8] M30[2/8]','H1[5/8] M30[1/8]','H4[3/8] H1PIVOT M30SUP','H1[3/8] M30[-1/8]','H1[2/8] M30[-2/8]'];
const bidPrice = 2.717;

// ---------------- STYLE ----------------
const levelColors = ['#C71585','#FF00FF','#1E90FF','#FF8C00','#FF4500','#556B2F','#1E90FF','#556B2F','#FF4500','#FF8C00','#1E90FF','#FF00FF','#C71585'];
const DD = '10px,5px,3px,5px', LD = '17px,7px';
const levelDash = [DD,DD,LD,DD,DD,DD,'solid',DD,DD,DD,LD,DD,DD];
const FONT = 'Liberation Sans, Arial, sans-serif';
const PLOT = {l:3, r:65, t:4, b:31, W:3839, H:2021};

// ---------------- BUILD ----------------
const nBars = Math.min(openP.length, highP.length, lowP.length, closeP.length);
const xIdx = closeP.slice(0, nBars).map((_, i) => i);
const candles = {
  type:'candlestick', x:xIdx, open:openP.slice(0,nBars), high:highP.slice(0,nBars), low:lowP.slice(0,nBars), close:closeP.slice(0,nBars),
  increasing:{line:{color:'#000', width:1}, fillcolor:'#ffffff'},
  decreasing:{line:{color:'#000', width:1}, fillcolor:'#000000'},
  whiskerwidth:0, hoverinfo:'skip', showlegend:false
};

const timeTickVals = timeLabels.map((_, i) => i * barsPerTimeLabel);
const gridVals = [];
for (let v = 0; v <= 940; v += barsPerTimeLabel / 2) gridVals.push(v);

const PW = PLOT.W-PLOT.l-PLOT.r, PH = PLOT.H-PLOT.t-PLOT.b;
const shapes = [];
const annotations = [];
levelValues.forEach((v, i) => {
  shapes.push({type:'line', xref:'paper', x0:0, x1:1, yref:'y', y0:v, y1:v, layer:'between',
    line:{color:levelColors[i], width:1, dash:levelDash[i]}});
  annotations.push({xref:'paper', x:0.8504, yref:'y', y:v, yshift:-10, xanchor:'center', yanchor:'middle',
    text:levelNames[i], showarrow:false, font:{family:FONT, size:17.7, color:levelColors[i]}});
  annotations.push({xref:'paper', x:1, xshift:2, yref:'y', y:v, xanchor:'left', yanchor:'middle',
    text:v.toFixed(3), showarrow:false, bgcolor:levelColors[i], borderpad:1, width:50, align:'left',
    font:{family:FONT, size:16, color:'#ffffff'}});
});
shapes.push({type:'line', xref:'paper', x0:0, x1:1, yref:'y', y0:bidPrice, y1:bidPrice, layer:'between',
  line:{color:'#c0c0c0', width:1}});
annotations.push({xref:'paper', x:1, xshift:2, yref:'y', y:bidPrice, xanchor:'left', yanchor:'middle',
  text:bidPrice.toFixed(3), showarrow:false, bgcolor:'#000000', borderpad:1, width:50, align:'left',
  font:{family:FONT, size:16, color:'#ffffff'}});
annotations.push({xref:'paper', x:0, xshift:25, yref:'paper', y:1, yanchor:'top', xanchor:'left', showarrow:false,
  text:headerText.replace(/ /g,'&nbsp;'), font:{family:FONT, size:16, color:'#000'}, borderpad:1});
annotations.push({xref:'paper', x:0, xshift:5, yref:'paper', y:1, yshift:-4, yanchor:'top', xanchor:'left', showarrow:false,
  text:'▼', font:{family:'DejaVu Sans, sans-serif', size:11, color:'#000'}});
annotations.push({xref:'paper', x:(3317-PLOT.l)/PW, yref:'paper', y:1, yshift:-1, yanchor:'top', xanchor:'center', showarrow:false,
  text:'▼', font:{family:'DejaVu Sans, sans-serif', size:10, color:'#a0a0a0'}});
// red close cross (decoration)
const cx0 = (3492.7-PLOT.l)/PW, cx1 = (3539.3-PLOT.l)/PW;
const cyT = 1-(737.7-PLOT.t)/PH, cyB = 1-(782.7-PLOT.t)/PH;
shapes.push({type:'line', xref:'paper', yref:'paper', x0:cx0, y0:cyT, x1:cx1, y1:cyB, line:{color:'#ee2a5c', width:4.5}});
shapes.push({type:'line', xref:'paper', yref:'paper', x0:cx0, y0:cyB, x1:cx1, y1:cyT, line:{color:'#ee2a5c', width:4.5}});
// mouse pointer (decoration), tip placed at a pixel position inside the plot
shapes.push({type:'path', xref:'paper', yref:'paper', xsizemode:'pixel', ysizemode:'pixel',
  xanchor:(111-PLOT.l)/PW, yanchor:1-(875-PLOT.t)/PH,
  path:'M0,0 L0,-27 L6,-21 L10,-30 L14,-28 L10,-20 L18,-20 Z',
  fillcolor:'#ffffff', line:{color:'#606060', width:1}});

const layout = {
  width:PLOT.W, height:PLOT.H, margin:{l:PLOT.l, r:PLOT.r, t:PLOT.t, b:PLOT.b, pad:0},
  paper_bgcolor:'#ffffff', plot_bgcolor:'#ffffff', showlegend:false, dragmode:false,
  xaxis:{range:[-0.25, 936.0], rangeslider:{visible:false}, tickmode:'array', tickvals:timeTickVals, ticktext:timeLabels,
    ticklabelposition:'outside right', ticks:'outside', ticklen:4, tickcolor:'#000', tickwidth:1,
    tickfont:{family:FONT, size:16, color:'#000'}, showgrid:true, gridcolor:'#c4c4c4', griddash:'3px,3px', gridwidth:1,
    minor:{tickmode:'array', tickvals:gridVals, showgrid:true, gridcolor:'#c4c4c4', griddash:'3px,3px', gridwidth:1, ticks:''},
    showline:true, linecolor:'#000', linewidth:1, mirror:true, zeroline:false, fixedrange:true},
  yaxis:{side:'right', range:[2.5497, 3.1004], tickmode:'array', tickvals:priceTicks, tickformat:'.3f',
    ticks:'outside', ticklen:5, tickcolor:'#000', tickwidth:1, tickfont:{family:FONT, size:16, color:'#000'},
    showgrid:true, gridcolor:'#c4c4c4', griddash:'3px,3px', gridwidth:1,
    showline:true, linecolor:'#000', linewidth:1, mirror:true, zeroline:false, fixedrange:true},
  shapes:shapes, annotations:annotations
};
Plotly.newPlot('chart', [candles], layout, {staticPlot:true, displayModeBar:false});
</script></body></html>
